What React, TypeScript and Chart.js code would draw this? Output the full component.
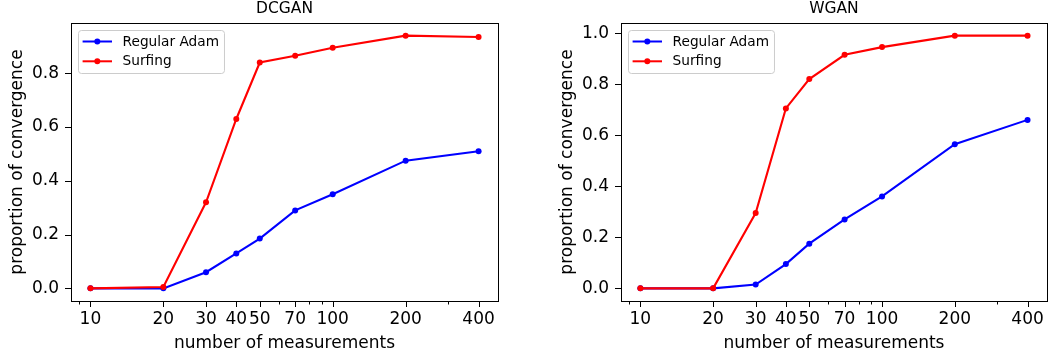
import { useEffect, useRef } from "react";
import { Chart, registerables } from "chart.js";

Chart.register(...registerables);

// Number of measurements (log-scaled x axis)
const measurements = [10, 20, 30, 40, 50, 70, 100, 200, 400];
const minorMeasurementTicks = [9, 60, 80, 90, 300];

// DCGAN: proportion of runs that converged
const dcganAdam = [0.0, 0.0, 0.06, 0.13, 0.185, 0.29, 0.35, 0.475, 0.51];
const dcganSurfing = [0.0, 0.005, 0.32, 0.63, 0.84, 0.865, 0.895, 0.94, 0.935];

// WGAN: proportion of runs that converged
const wganAdam = [0.0, 0.0, 0.015, 0.095, 0.175, 0.27, 0.36, 0.565, 0.66];
const wganSurfing = [0.0, 0.0, 0.295, 0.705, 0.82, 0.915, 0.945, 0.99, 0.99];

const dcganYTicks = [0.0, 0.2, 0.4, 0.6, 0.8];
const wganYTicks = [0.0, 0.2, 0.4, 0.6, 0.8, 1.0];

const seriesNames = ["Regular Adam", "Surfing"];
const seriesColors = ["#0000ff", "#ff0000"];

const FONT = "DejaVu Sans";

// Axis frame, outward tick marks and a boxed legend in the upper left corner
const framePlugin = {
  id: "frame",
  afterDatasetsDraw(chart: any) {
    const { ctx, chartArea: a } = chart;
    const xs = chart.scales.x;
    const ys = chart.scales.y;
    ctx.save();
    ctx.strokeStyle = "#000";
    ctx.lineWidth = 1;
    ctx.beginPath();
    xs.ticks.forEach((t: any) => {
      const px = Math.round(xs.getPixelForValue(t.value)) + 0.5;
      const len = t.label ? 6 : 3.5;
      ctx.moveTo(px, a.bottom);
      ctx.lineTo(px, a.bottom + len);
    });
    ys.ticks.forEach((t: any) => {
      const py = Math.round(ys.getPixelForValue(t.value)) + 0.5;
      ctx.moveTo(a.left, py);
      ctx.lineTo(a.left - 6, py);
    });
    ctx.stroke();
    ctx.strokeRect(
      Math.round(a.left) + 0.5,
      Math.round(a.top) + 0.5,
      Math.round(a.right - a.left),
      Math.round(a.bottom - a.top)
    );
    ctx.restore();
  },
  afterDraw(chart: any) {
    const { ctx, chartArea: a } = chart;
    const datasets = chart.data.datasets;
    ctx.save();
    ctx.font = `13.7px "${FONT}"`;
    let textW = 0;
    datasets.forEach((d: any) => {
      textW = Math.max(textW, ctx.measureText(d.label).width);
    });
    const bx = a.left + 7;
    const by = a.top + 7;
    const bw = 44.6 + textW + 5;
    const bh = 43;
    ctx.beginPath();
    ctx.roundRect(bx + 0.5, by + 0.5, bw, bh, 3);
    ctx.fillStyle = "rgba(255,255,255,0.8)";
    ctx.fill();
    ctx.strokeStyle = "#cccccc";
    ctx.lineWidth = 1;
    ctx.stroke();
    ctx.textBaseline = "middle";
    ctx.textAlign = "left";
    datasets.forEach((d: any, i: number) => {
      const ry = by + 11.5 + i * 19.8;
      ctx.strokeStyle = d.borderColor;
      ctx.lineWidth = 2;
      ctx.beginPath();
      ctx.moveTo(bx + 4.6, ry);
      ctx.lineTo(bx + 34, ry);
      ctx.stroke();
      ctx.fillStyle = d.borderColor;
      ctx.beginPath();
      ctx.arc(bx + 19.3, ry, 3, 0, Math.PI * 2);
      ctx.fill();
      ctx.fillStyle = "#000";
      ctx.fillText(d.label, bx + 44.6, ry + 0.5);
    });
    ctx.restore();
  },
};

function logLimits(values: number[]) {
  const lo = Math.log10(Math.min(...values));
  const hi = Math.log10(Math.max(...values));
  const m = (hi - lo) * 0.05;
  return { min: Math.pow(10, lo - m), max: Math.pow(10, hi + m) };
}

function linLimits(a: number[], b: number[]) {
  const all = [...a, ...b];
  const lo = Math.min(...all);
  const hi = Math.max(...all);
  const m = (hi - lo) * 0.05;
  return { min: lo - m, max: hi + m };
}

function makeConfig(
  title: string,
  adam: number[],
  surfing: number[],
  yTicks: number[],
  padRight: number
): any {
  const xl = logLimits(measurements);
  const yl = linLimits(adam, surfing);
  const series = [adam, surfing];
  const xTickValues = [...measurements, ...minorMeasurementTicks].sort((p, q) => p - q);
  return {
    type: "line",
    data: {
      datasets: series.map((vals, i) => ({
        label: seriesNames[i],
        data: measurements.map((m, j) => ({ x: m, y: vals[j] })),
        borderColor: seriesColors[i],
        backgroundColor: seriesColors[i],
        pointBackgroundColor: seriesColors[i],
        pointBorderWidth: 0,
        pointRadius: 3,
        borderWidth: 2.1,
        tension: 0,
        fill: false,
        order: series.length - i,
      })),
    },
    options: {
      responsive: false,
      animation: false,
      devicePixelRatio: 1,
      events: [],
      layout: { padding: { left: 0, right: padRight, top: 0, bottom: 0 } },
      plugins: {
        legend: { display: false },
        tooltip: { enabled: false },
        title: {
          display: true,
          text: title,
          fullSize: false,
          color: "#000",
          font: { family: FONT, size: 15.5, weight: "normal" },
          padding: { top: -0.8, bottom: 5.2 },
        },
      },
      scales: {
        x: {
          type: "logarithmic",
          min: xl.min,
          max: xl.max,
          grid: { display: false, drawTicks: false },
          border: { display: false },
          afterBuildTicks: (scale: any) => {
            scale.ticks = xTickValues.map((v) => ({ value: v }));
          },
          afterFit: (scale: any) => {
            scale.height = 57;
          },
          ticks: {
            autoSkip: false,
            maxRotation: 0,
            minRotation: 0,
            padding: 8,
            color: "#000",
            font: { family: FONT, size: 17 },
            callback: (v: any) => (measurements.includes(Number(v)) ? String(v) : ""),
          },
          title: {
            display: true,
            text: "number of measurements",
            color: "#000",
            font: { family: FONT, size: 17 },
            padding: { top: 0, bottom: 4.5 },
          },
        },
        y: {
          type: "linear",
          min: yl.min,
          max: yl.max,
          grid: { display: false, drawTicks: false },
          border: { display: false },
          afterBuildTicks: (scale: any) => {
            scale.ticks = yTicks.map((v) => ({ value: v }));
          },
          afterFit: (scale: any) => {
            scale.width = 71;
          },
          ticks: {
            padding: 12,
            color: "#000",
            font: { family: FONT, size: 17 },
            callback: (v: any) => Number(v).toFixed(1),
          },
          title: {
            display: true,
            text: "proportion of convergence",
            color: "#000",
            font: { family: FONT, size: 17 },
            padding: { top: 7, bottom: 0 },
          },
        },
      },
    },
    plugins: [framePlugin],
  };
}

function Panel(props: {
  left: number;
  width: number;
  title: string;
  adam: number[];
  surfing: number[];
  yTicks: number[];
  padRight: number;
}) {
  const ref = useRef<HTMLCanvasElement | null>(null);
  useEffect(() => {
    if (!ref.current) return;
    const chart = new Chart(
      ref.current,
      makeConfig(props.title, props.adam, props.surfing, props.yTicks, props.padRight)
    );
    return () => chart.destroy();
  }, []);
  return (
    <canvas
      ref={ref}
      width={props.width}
      height={358}
      style={{
        position: "absolute",
        left: props.left,
        top: 0,
        width: props.width,
        height: 358,
      }}
    />
  );
}

export default function App() {
  return (
    <div
      style={{
        position: "absolute",
        left: 0,
        top: 0,
        width: 1052,
        height: 358,
        background: "#fff",
        overflow: "hidden",
      }}
    >
      <Panel left={0} width={550} title="DCGAN" adam={dcganAdam} surfing={dcganSurfing} yTicks={dcganYTicks} padRight={52} />
      <Panel left={550} width={502} title="WGAN" adam={wganAdam} surfing={wganSurfing} yTicks={wganYTicks} padRight={4} />
    </div>
  );
}
